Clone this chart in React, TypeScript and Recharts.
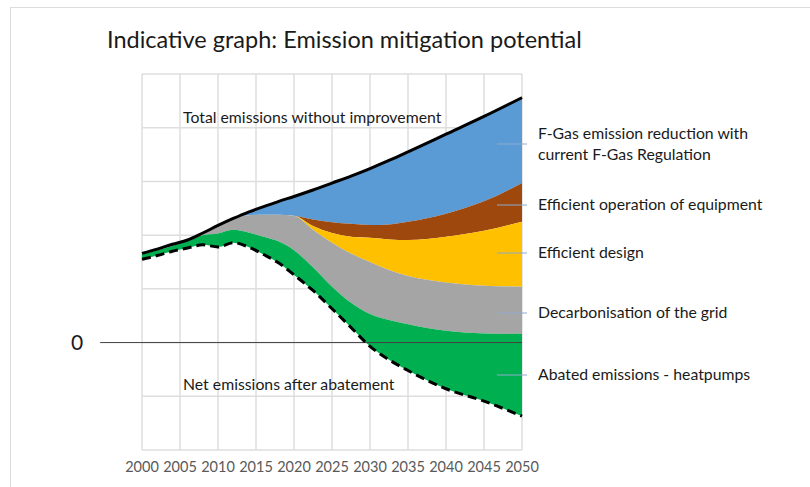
import React from "react";
import {
  ComposedChart,
  Area,
  Line,
  XAxis,
  YAxis,
  CartesianGrid,
  ReferenceLine,
} from "recharts";

// values, in gridline units (0 = zero line)
const years = [2000, 2002, 2004, 2006, 2008, 2010, 2012, 2014, 2016, 2018, 2020, 2022.5, 2025, 2027.5, 2030, 2032.5, 2035, 2040, 2045, 2050];
const totalEmissions = [1.66, 1.74, 1.83, 1.91, 2.04, 2.18, 2.31, 2.43, 2.53, 2.63, 2.72, 2.84, 2.97, 3.1, 3.24, 3.39, 3.55, 3.88, 4.21, 4.56];
const afterFGas = [1.66, 1.74, 1.83, 1.91, 2.04, 2.18, 2.31, 2.37, 2.38, 2.38, 2.36, 2.29, 2.24, 2.21, 2.19, 2.2, 2.25, 2.4, 2.63, 2.97];
const afterOperation = [1.66, 1.74, 1.83, 1.91, 2.04, 2.18, 2.31, 2.37, 2.38, 2.38, 2.36, 2.17, 2.04, 1.97, 1.95, 1.92, 1.91, 1.97, 2.08, 2.25];
const afterDesign = [1.66, 1.74, 1.83, 1.91, 2.04, 2.18, 2.31, 2.37, 2.38, 2.38, 2.36, 2.1, 1.86, 1.66, 1.5, 1.35, 1.24, 1.12, 1.06, 1.04];
const afterGrid = [1.64, 1.72, 1.8, 1.89, 2.0, 2.03, 2.1, 2.05, 1.97, 1.88, 1.72, 1.4, 1.04, 0.74, 0.53, 0.42, 0.34, 0.22, 0.17, 0.16];
const netEmissions = [1.55, 1.62, 1.7, 1.76, 1.82, 1.78, 1.86, 1.78, 1.64, 1.48, 1.26, 0.97, 0.63, 0.28, -0.07, -0.32, -0.52, -0.86, -1.09, -1.37];

const xTicks = [2000, 2005, 2010, 2015, 2020, 2025, 2030, 2035, 2040, 2045, 2050];
const yTicks = [-2, -1, 0, 1, 2, 3, 4, 5];

const bandLabels = [
  { lines: ["F-Gas emission reduction with", "current F-Gas Regulation"], y: 144 },
  { lines: ["Efficient operation of equipment"], y: 205 },
  { lines: ["Efficient design"], y: 253 },
  { lines: ["Decarbonisation of the grid"], y: 313 },
  { lines: ["Abated emissions - heatpumps"], y: 375 },
];

const data = years.map((year, i) => ({
  year,
  total: totalEmissions[i],
  net: netEmissions[i],
  fgas: [afterFGas[i], totalEmissions[i]],
  operation: [afterOperation[i], afterFGas[i]],
  design: [afterDesign[i], afterOperation[i]],
  grid: [afterGrid[i], afterDesign[i]],
  heatpumps: [netEmissions[i], afterGrid[i]],
}));

const FONT = "Lato, 'Open Sans', sans-serif";

export default function App() {
  return (
    <div style={{ position: "absolute", left: 0, top: 0, width: 810, height: 487, background: "#fff", fontFamily: FONT }}>
      <div style={{ position: "absolute", left: 10, top: 7, width: 800, height: 480, borderTop: "1px solid #dcdcdc", borderLeft: "1px solid #dcdcdc" }} />
      <div style={{ position: "absolute", left: 107, top: 25, fontSize: 23.5, color: "#1a1a1a", whiteSpace: "nowrap" }}>
        Indicative graph: Emission mitigation potential
      </div>
      <ComposedChart
        width={810}
        height={487}
        data={data}
        margin={{ top: 74, right: 288, bottom: 7, left: 142 }}
        style={{ position: "absolute", left: 0, top: 0 }}
      >
        <CartesianGrid stroke="#dedede" strokeWidth={1.5} />
        <XAxis
          dataKey="year"
          type="number"
          domain={[2000, 2050]}
          ticks={xTicks}
          axisLine={false}
          tickLine={false}
          tickMargin={6}
          tick={{ fill: "#595959", fontSize: 14.5, fontFamily: FONT }}
          height={30}
        />
        <YAxis hide domain={[-2, 5]} ticks={yTicks} width={0} />
        <Area type="monotone" dataKey="fgas" stroke="none" fill="#5b9bd5" fillOpacity={1} isAnimationActive={false} />
        <Area type="monotone" dataKey="operation" stroke="none" fill="#9e480e" fillOpacity={1} isAnimationActive={false} />
        <Area type="monotone" dataKey="design" stroke="none" fill="#ffc000" fillOpacity={1} isAnimationActive={false} />
        <Area type="monotone" dataKey="grid" stroke="none" fill="#a5a5a5" fillOpacity={1} isAnimationActive={false} />
        <Area type="monotone" dataKey="heatpumps" stroke="none" fill="#00b050" fillOpacity={1} isAnimationActive={false} />
        <ReferenceLine
          segment={[{ x: 1994.5, y: 0 }, { x: 2050, y: 0 }]}
          stroke="#404040"
          strokeWidth={1}
          ifOverflow="visible"
          label={{ value: "0", position: "left", offset: 17, fontSize: 21, fill: "#1a1a1a", fontFamily: FONT }}
        />
        <Line type="monotone" dataKey="total" stroke="#000" strokeWidth={3} dot={false} isAnimationActive={false} />
        <Line type="monotone" dataKey="net" stroke="#000" strokeWidth={3} strokeDasharray="9 5" dot={false} isAnimationActive={false} />
      </ComposedChart>
      <svg width={810} height={487} style={{ position: "absolute", left: 0, top: 0, pointerEvents: "none" }}>
        <text x={183} y={123} fontSize={15.8} fill="#1a1a1a" fontFamily={FONT}>Total emissions without improvement</text>
        <text x={183} y={390} fontSize={15.8} fill="#1a1a1a" fontFamily={FONT}>Net emissions after abatement</text>
        {bandLabels.map((b) => (
          <g key={b.lines[0]}>
            <line x1={497} x2={527} y1={b.y} y2={b.y} stroke="#8eaacc" strokeWidth={1} />
            {b.lines.map((t, k) => (
              <text
                key={t}
                x={538}
                y={b.y + 5 + (b.lines.length > 1 ? (k - 0.5) * 21 : 0)}
                fontSize={15.8}
                fill="#1a1a1a"
                fontFamily={FONT}
              >
                {t}
              </text>
            ))}
          </g>
        ))}
      </svg>
    </div>
  );
}
